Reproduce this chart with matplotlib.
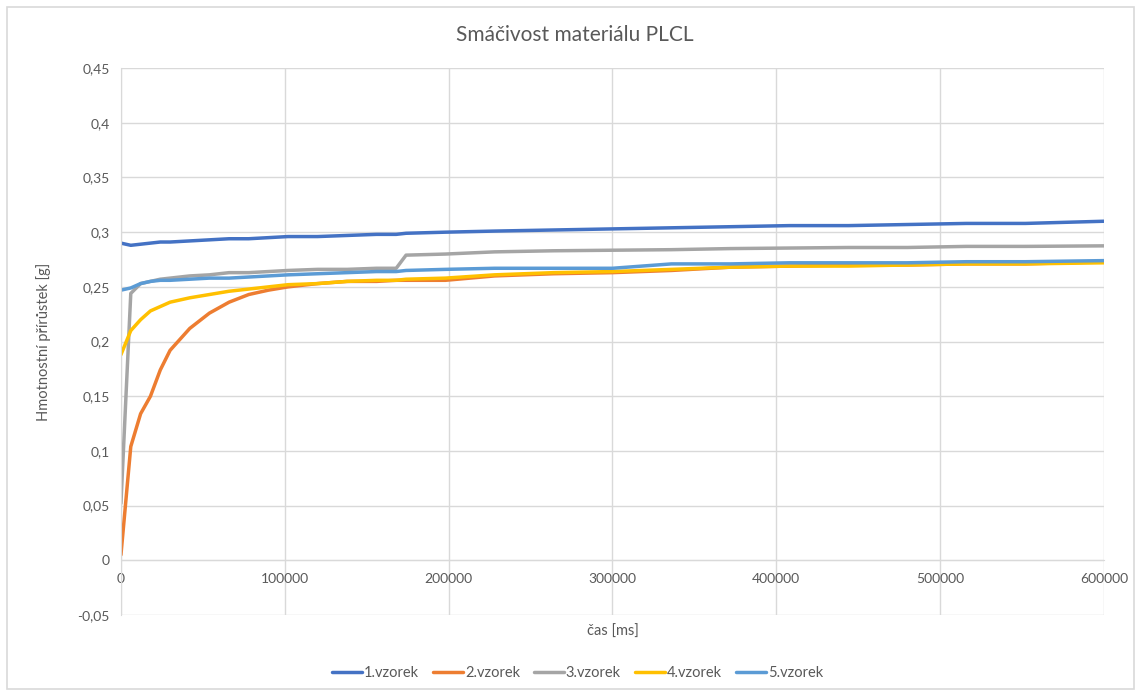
#!/usr/bin/env python3

"""Smacivost materialu PLCL - weight gain over time for five samples."""

import matplotlib
matplotlib.use("Agg")
import matplotlib.pyplot as plt
from matplotlib.patches import Rectangle
from matplotlib.ticker import FuncFormatter, MultipleLocator

plt.rcParams["font.family"] = ["Lato", "DejaVu Sans"]

# time [ms]
cas = [0, 6000, 12000, 18000, 24000, 30000, 42000, 54000, 66000, 78000,
       90000, 102000, 120000, 138000, 156000, 168000, 174000, 198000,
       228000, 264000, 300000, 336000, 372000, 408000, 444000, 480000,
       516000, 552000, 600000]

vzorek1 = [0.290, 0.288, 0.289, 0.290, 0.291, 0.291, 0.292, 0.293, 0.294,
           0.294, 0.295, 0.296, 0.296, 0.297, 0.298, 0.298, 0.299, 0.300,
           0.301, 0.302, 0.303, 0.304, 0.305, 0.306, 0.306, 0.307, 0.308,
           0.308, 0.310]
vzorek2 = [0.005, 0.104, 0.134, 0.150, 0.174, 0.192, 0.212, 0.226, 0.236,
           0.243, 0.247, 0.250, 0.253, 0.255, 0.255, 0.256, 0.256, 0.256,
           0.260, 0.262, 0.263, 0.265, 0.268, 0.269, 0.270, 0.270, 0.271,
           0.271, 0.273]
vzorek3 = [0.052, 0.244, 0.253, 0.255, 0.257, 0.258, 0.260, 0.261, 0.263,
           0.263, 0.264, 0.265, 0.266, 0.266, 0.267, 0.267, 0.279, 0.280,
           0.282, 0.283, 0.2835, 0.284, 0.285, 0.2855, 0.286, 0.286, 0.287,
           0.287, 0.2875]
vzorek4 = [0.188, 0.210, 0.220, 0.228, 0.232, 0.236, 0.240, 0.243, 0.246,
           0.248, 0.250, 0.252, 0.253, 0.255, 0.256, 0.256, 0.257, 0.258,
           0.261, 0.263, 0.264, 0.266, 0.268, 0.269, 0.269, 0.270, 0.271,
           0.271, 0.272]
vzorek5 = [0.247, 0.249, 0.253, 0.255, 0.256, 0.256, 0.257, 0.258, 0.258,
           0.259, 0.260, 0.261, 0.262, 0.263, 0.264, 0.264, 0.265, 0.266,
           0.267, 0.267, 0.267, 0.271, 0.271, 0.272, 0.272, 0.272, 0.273,
           0.273, 0.274]

serie = [vzorek1, vzorek2, vzorek3, vzorek4, vzorek5]
nazvy = ["1.vzorek", "2.vzorek", "3.vzorek", "4.vzorek", "5.vzorek"]
barvy = ["#4472C4", "#ED7D31", "#A5A5A5", "#FFC000", "#5B9BD5"]

TEXT = "#595959"
GRID = "#d9d9d9"

fig = plt.figure(figsize=(11.41, 6.95), dpi=100)
ax = fig.add_axes([0.106, 0.1151, 0.8616, 0.7869])

for hodnoty, nazev, barva in zip(serie, nazvy, barvy):
    ax.plot(cas, hodnoty, color=barva, lw=2.5, label=nazev,
            solid_joinstyle="round", solid_capstyle="round")

ax.set_xlim(0, 600000)
ax.set_ylim(-0.05, 0.45)
ax.xaxis.set_major_locator(MultipleLocator(100000))
ax.yaxis.set_major_locator(MultipleLocator(0.05))
ax.yaxis.set_major_formatter(
    FuncFormatter(lambda v, _: ("%g" % round(v, 2)).replace(".", ",")))
ax.xaxis.set_major_formatter(FuncFormatter(lambda v, _: "%d" % v))

ax.grid(True, color=GRID, lw=1.0)
ax.set_axisbelow(True)
for s in ["top", "right"]:
    ax.spines[s].set_visible(False)
ax.spines["bottom"].set_position(("data", 0))
ax.spines["bottom"].set_color(GRID)
ax.spines["left"].set_color(GRID)
ax.tick_params(length=0, colors=TEXT, labelsize=10)
ax.tick_params(axis="x", pad=9)
ax.tick_params(axis="y", pad=8)

fig.text(0.504, 0.949, "Smáčivost materiálu PLCL", color=TEXT, fontsize=15,
         ha="center", va="center")
ax.set_ylabel("Hmotnostní přírůstek [g]", color=TEXT, fontsize=10.5,
              labelpad=19)
fig.text(0.5375, 0.0906, "čas [ms]", color=TEXT, fontsize=10.5,
         ha="center", va="center")

leg = fig.legend(loc="center", bbox_to_anchor=(0.506, 0.032), ncol=5,
                 frameon=False, fontsize=10.5, handlelength=2.1,
                 handletextpad=0.1, columnspacing=0.95)
for t in leg.get_texts():
    t.set_color(TEXT)

fig.patches.append(Rectangle((0.006, 0.008), 0.988, 0.982,
                             transform=fig.transFigure, fill=False,
                             edgecolor=GRID, lw=1.2))

fig.savefig("out.png", dpi=100)
